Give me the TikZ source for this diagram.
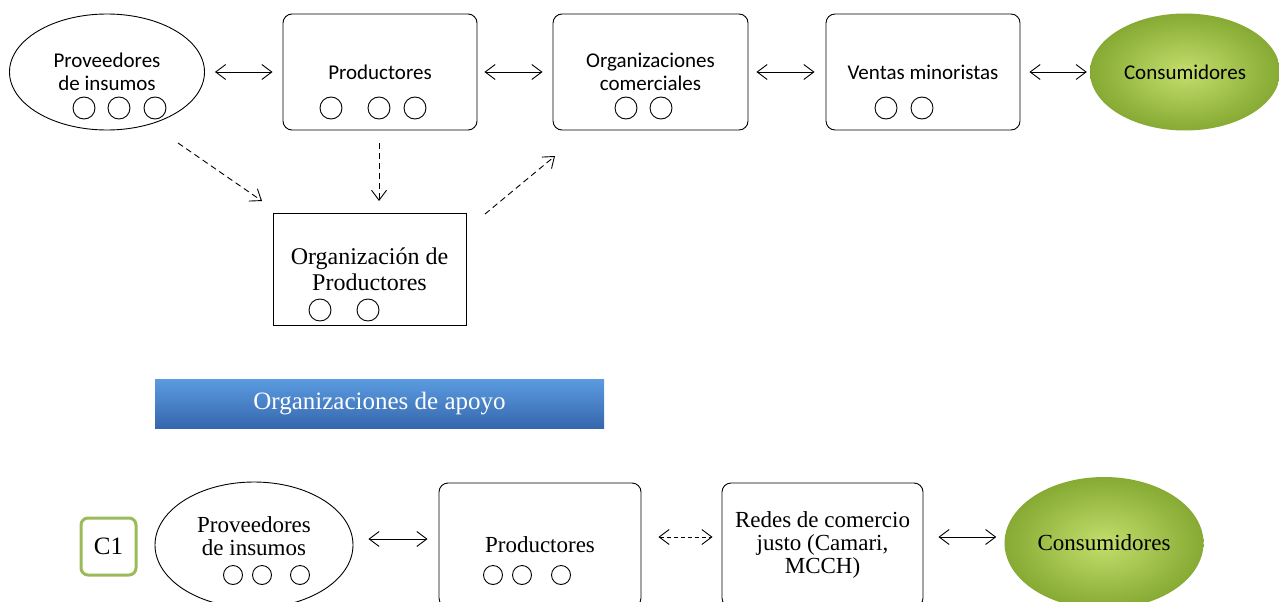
\documentclass[tikz,border=0pt]{standalone}
\usepackage{fontspec}
\setmainfont{Liberation Serif}
\newfontfamily\calib{Carlito}
\usetikzlibrary{shapes.geometric,arrows.meta}
\definecolor{greenin}{HTML}{C3DE6C}
\definecolor{greenout}{HTML}{86AA33}
\definecolor{blueTop}{HTML}{5B9BE0}
\definecolor{blueBot}{HTML}{3566AC}
\definecolor{cgreen}{HTML}{9BBB59}
\tikzset{
  tip/.style={-{Straight Barb[length=10pt,width=15pt]}},
  both/.style={{Straight Barb[length=10pt,width=15pt]}-{Straight Barb[length=10pt,width=15pt]}},
  rbox/.style={draw,rounded corners=9pt,minimum width=194pt,minimum height=116pt,align=center,line width=0.9pt},
  sbox/.style={draw,minimum width=193pt,minimum height=112pt,align=center,line width=0.9pt},
  oval/.style={draw,ellipse,align=center,line width=0.9pt},
  gov/.style={ellipse,align=center,shading=radial,inner color=greenin,outer color=greenout},
  dot/.style={draw,circle,minimum size=22pt,inner sep=0pt,line width=0.9pt},
  sdot/.style={draw,circle,minimum size=19pt,inner sep=0pt,line width=0.9pt},
  ctext/.style={font=\calib\fontsize{21}{23}\selectfont},
  stext/.style={font=\fontsize{23}{23}\selectfont},
}
\begin{document}
\begin{tikzpicture}[x=1pt,y=-1pt]
\useasboundingbox (0,0) rectangle (1279,602);
% top row
\node[oval,ctext,minimum width=195pt,minimum height=116pt] (prov) at (107,72) {Proveedores\\de insumos};
\node[rbox,ctext] (prod) at (380,72) {Productores};
\node[rbox,ctext,minimum width=195pt] (orgc) at (650.5,72) {Organizaciones\\comerciales};
\node[rbox,ctext] (vent) at (923,72) {Ventas minoristas};
\node[gov,ctext,minimum width=190pt,minimum height=117pt] (cons) at (1185,72) {Consumidores};
\node[dot] (p1) at (84,108) {};
\node[dot] (p2) at (119,108) {};
\node[dot] (p3) at (155,108) {};
\node[dot] (q1) at (331,108) {};
\node[dot] (q2) at (379,108) {};
\node[dot] (q3) at (415,108) {};
\node[dot] (o1) at (626,108) {};
\node[dot] (o2) at (661,108) {};
\node[dot] (v1) at (886,108) {};
\node[dot] (v2) at (922,108) {};
\draw[both,line width=0.9pt,shorten <=10pt,shorten >=10pt] (prov) -- (prod);
\draw[both,line width=0.9pt,shorten <=7pt,shorten >=10pt] (prod) -- (orgc);
\draw[both,line width=0.9pt,shorten <=8pt,shorten >=11pt] (orgc) -- (vent);
\draw[both,line width=0.9pt,shorten <=9pt,shorten >=3pt] (vent) -- (cons);
% organizacion de productores
\node[sbox,font=\fontsize{24}{26}\selectfont] (orgp) at (369.5,269) {Organización de\\Productores};
\node[dot] (r1) at (320,310) {};
\node[dot] (r2) at (368,310) {};
\coordinate (a1) at (178,143);
\coordinate (a2) at (262,201);
\coordinate (b1) at (379,143);
\coordinate (b2) at (379,201);
\coordinate (c1) at (485,214);
\coordinate (c2) at (555,156);
\draw[tip,dashed,line width=0.9pt,dash pattern=on 6pt off 4pt] (a1) -- (a2);
\draw[tip,dashed,line width=0.9pt,dash pattern=on 6pt off 4pt] (b1) -- (b2);
\draw[tip,dashed,line width=0.9pt,dash pattern=on 6pt off 4pt] (c1) -- (c2);
% apoyo bar
\node[minimum width=449pt,minimum height=49pt,top color=blueTop,bottom color=blueBot,text=white,font=\fontsize{25}{26}\selectfont] (apoyo) at (379.5,404) {Organizaciones de apoyo};
% bottom row
\node[draw=cgreen,line width=3pt,rounded corners=7pt,minimum width=55pt,minimum height=57pt,font=\fontsize{25}{25}\selectfont] (cone) at (108.5,546.5) {C1};
\node[oval,stext,minimum width=198pt,minimum height=126pt] (prov2) at (254,545) {Proveedores\\de insumos\\[-0.5ex]\mbox{}};
\node[rbox,stext,minimum width=202pt,minimum height=124pt] (prod2) at (540,545) {Productores};
\node[rbox,stext,minimum width=201pt,minimum height=124pt] (redes) at (822.5,545) {Redes de comercio\\justo (Camari,\\MCCH)};
\node[gov,stext,minimum width=199pt,minimum height=132pt] (cons2) at (1104,543) {Consumidores};
\node[sdot] (s1) at (233,575) {};
\node[sdot] (s2) at (262,575) {};
\node[sdot] (s3) at (300,575) {};
\node[sdot] (t1) at (493,575) {};
\node[sdot] (t2) at (522,575) {};
\node[sdot] (t3) at (561,575) {};
\draw[both,line width=0.9pt,shorten <=15pt,shorten >=11pt] (prov2.east |- 0,539) -- (prod2.west |- 0,539);
\draw[both,dashed,line width=0.9pt,dash pattern=on 4pt off 3pt,shorten <=17pt,shorten >=9pt] (prod2.east |- 0,537) -- (redes.west |- 0,537);
\draw[both,line width=0.9pt,shorten <=15pt,shorten >=8pt] (redes.east |- 0,537) -- (cons2.west |- 0,537);
\end{tikzpicture}
\end{document}
